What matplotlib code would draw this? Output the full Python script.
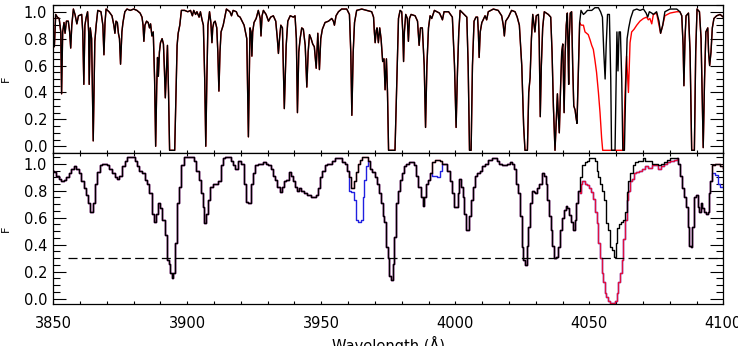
import numpy as np
import matplotlib
matplotlib.use("Agg")
import matplotlib.pyplot as plt
from matplotlib.ticker import MultipleLocator

# ---- top panel: high resolution spectrum (black) ----
top_wave = [
    3850.0, 3850.4, 3850.9, 3851.5, 3852.2, 3852.8, 3853.1, 3853.5, 3854.0, 3854.4,
    3854.9, 3855.6, 3856.1, 3856.5, 3856.9, 3857.5, 3858.1, 3858.8, 3859.4, 3860.6,
    3861.0, 3861.4, 3861.8, 3862.3, 3862.8, 3863.2, 3863.4, 3863.8, 3864.3, 3864.9,
    3865.5, 3866.0, 3866.6, 3867.8, 3868.5, 3868.9, 3869.3, 3869.7, 3870.8, 3871.9,
    3872.6, 3873.0, 3873.4, 3873.9, 3874.3, 3874.7, 3875.1, 3875.6, 3876.0, 3876.7,
    3877.5, 3878.7, 3880.0, 3881.2, 3882.4, 3883.1, 3883.5, 3883.8, 3884.2, 3884.8,
    3885.4, 3885.9, 3886.3, 3886.8, 3887.3, 3887.8, 3888.2, 3888.6, 3888.9, 3889.2,
    3889.6, 3890.0, 3890.6, 3891.1, 3891.5, 3891.8, 3892.2, 3892.6, 3893.0, 3893.4,
    3895.3, 3895.8, 3896.2, 3896.6, 3897.2, 3897.8, 3899.0, 3900.2, 3901.2, 3901.9,
    3902.4, 3903.1, 3903.6, 3904.4, 3904.9, 3905.5, 3906.0, 3906.5, 3906.9, 3907.3,
    3907.7, 3908.3, 3908.8, 3909.2, 3909.5, 3909.9, 3910.4, 3911.0, 3911.4, 3911.8,
    3912.2, 3912.6, 3913.4, 3914.0, 3914.6, 3915.9, 3916.5, 3917.1, 3918.3, 3918.9,
    3919.7, 3921.2, 3922.2, 3922.8, 3923.4, 3923.8, 3924.1, 3924.4, 3924.9, 3925.7,
    3926.5, 3927.2, 3927.5, 3927.9, 3928.4, 3929.4, 3930.3, 3931.1, 3932.1, 3933.0,
    3933.6, 3934.0, 3934.5, 3934.9, 3935.5, 3936.2, 3936.9, 3937.5, 3938.4, 3939.6,
    3940.2, 3940.7, 3941.1, 3941.6, 3942.1, 3942.7, 3943.3, 3944.0, 3944.6, 3945.1,
    3945.6, 3946.2, 3946.8, 3947.4, 3948.1, 3948.7, 3949.3, 3949.8, 3950.4, 3951.4,
    3952.7, 3953.9, 3954.5, 3954.9, 3955.5, 3956.4, 3957.6, 3959.5, 3960.5, 3961.0,
    3961.4, 3961.9, 3962.4, 3963.2, 3965.1, 3967.0, 3968.8, 3969.5, 3969.8, 3970.1,
    3970.5, 3970.8, 3971.3, 3971.8, 3972.3, 3972.9, 3973.4, 3973.8, 3974.3, 3974.7,
    3975.1, 3977.5, 3978.2, 3978.8, 3979.4, 3980.0, 3980.4, 3980.7, 3981.0, 3981.5,
    3982.1, 3982.5, 3982.9, 3983.5, 3985.0, 3985.9, 3986.5, 3987.0, 3987.7, 3988.4,
    3988.9, 3989.4, 3990.0, 3990.6, 3991.2, 3992.2, 3994.1, 3994.8, 3995.2, 3995.8,
    3997.5, 3998.9, 3999.7, 4000.3, 4000.8, 4001.3, 4001.8, 4003.3, 4004.3, 4004.8,
    4005.3, 4005.9, 4006.4, 4007.0, 4007.7, 4008.3, 4008.6, 4008.9, 4009.3, 4009.9,
    4010.4, 4011.1, 4011.7, 4012.3, 4014.2, 4016.0, 4017.3, 4017.9, 4018.3, 4018.8,
    4019.8, 4021.0, 4022.3, 4023.1, 4023.9, 4024.8, 4025.5, 4026.0, 4026.9, 4027.4,
    4027.9, 4028.4, 4028.9, 4029.4, 4029.7, 4030.2, 4031.0, 4031.3, 4031.7, 4032.1,
    4032.6, 4033.2, 4034.7, 4035.6, 4036.1, 4036.6, 4037.2, 4037.7, 4038.1, 4038.4,
    4038.8, 4039.3, 4039.7, 4040.1, 4040.6, 4041.0, 4041.4, 4041.8, 4042.0, 4042.3,
    4042.5, 4042.9, 4043.4, 4043.8, 4044.2, 4044.7, 4045.0, 4045.4, 4045.9, 4046.4,
    4046.9, 4047.8, 4048.4, 4049.3, 4050.9, 4052.1, 4053.4, 4054.2, 4054.9, 4055.4,
    4055.9, 4056.3, 4056.8, 4057.5, 4058.0, 4058.3, 4059.6, 4060.1, 4060.3, 4060.7,
    4061.1, 4061.6, 4062.1, 4062.5, 4063.1, 4063.6, 4064.1, 4064.7, 4065.4, 4066.4,
    4067.7, 4068.9, 4070.2, 4071.2, 4071.8, 4072.4, 4073.3, 4073.9, 4075.1, 4076.0,
    4076.6, 4077.4, 4078.2, 4080.1, 4082.6, 4083.8, 4084.5, 4085.0, 4085.3, 4085.7,
    4086.1, 4087.0, 4087.6, 4088.2, 4089.2, 4089.7, 4090.2, 4091.1, 4091.7, 4092.2,
    4092.5, 4093.0, 4093.5, 4094.2, 4094.5, 4094.9, 4095.4, 4095.9, 4096.5, 4097.5,
    4098.8, 4100.0,
]
top_flux = [
    0.80, 0.74, 0.98, 0.96, 0.95, 0.85, 0.39, 0.85, 0.92, 0.84,
    0.93, 0.93, 0.85, 0.73, 0.90, 1.02, 0.98, 0.91, 0.97, 0.98,
    0.85, 0.46, 0.90, 0.96, 1.00, 0.85, 0.46, 0.88, 0.80, 0.04,
    0.78, 0.90, 1.01, 1.00, 0.90, 0.68, 0.92, 1.02, 1.00, 0.97,
    0.90, 0.84, 0.93, 0.92, 0.84, 0.80, 0.61, 0.85, 0.92, 1.00,
    1.02, 1.01, 1.02, 1.01, 0.99, 0.96, 0.90, 0.78, 0.90, 0.93,
    0.92, 0.88, 0.91, 0.82, 0.85, 0.50, 0.00, 0.45, 0.66, 0.52,
    0.70, 0.77, 0.80, 0.76, 0.55, 0.36, 0.55, 0.75, 0.40, -0.03,
    -0.03, 0.40, 0.75, 0.84, 0.90, 1.01, 1.01, 1.00, 1.01, 0.97,
    1.01, 0.98, 1.00, 0.96, 1.00, 0.94, 0.90, 0.50, 0.00, 0.50,
    0.90, 1.00, 0.92, 0.77, 0.88, 0.92, 0.93, 0.88, 0.70, 0.41,
    0.70, 0.85, 0.90, 0.96, 1.02, 1.00, 0.97, 1.01, 1.00, 0.97,
    0.96, 0.90, 0.80, 0.07, 0.88, 0.85, 0.67, 0.85, 0.92, 0.95,
    1.01, 0.95, 0.82, 0.97, 1.01, 0.98, 0.93, 0.96, 0.97, 0.93,
    0.80, 0.69, 0.82, 0.90, 0.88, 0.28, 0.75, 0.93, 0.97, 0.96,
    0.97, 0.80, 0.25, 0.70, 0.80, 0.88, 0.87, 0.75, 0.44, 0.70,
    0.83, 0.80, 0.76, 0.74, 0.58, 0.84, 0.57, 0.80, 0.87, 0.92,
    0.93, 0.95, 0.93, 0.90, 0.97, 1.00, 1.02, 1.02, 0.98, 0.70,
    0.23, 0.70, 0.92, 1.01, 1.02, 1.01, 1.00, 0.96, 0.85, 0.77,
    0.86, 0.88, 0.77, 0.88, 0.80, 0.63, 0.65, 0.42, 0.65, 0.40,
    -0.03, -0.03, 0.50, 0.95, 1.01, 1.00, 0.85, 0.63, 0.85, 0.98,
    0.95, 0.78, 0.95, 0.98, 0.97, 0.93, 0.75, 0.88, 0.88, 0.60,
    0.14, 0.60, 0.88, 0.97, 0.95, 1.01, 0.99, 0.96, 0.94, 1.00,
    1.00, 0.96, 0.60, 0.14, 0.55, 0.85, 1.01, 0.98, 0.96, 0.60,
    -0.03, -0.03, 0.60, 0.93, 0.96, 0.96, 0.85, 0.66, 0.85, 0.92,
    0.94, 0.97, 0.94, 1.00, 1.02, 1.01, 0.97, 0.90, 0.82, 0.93,
    0.96, 1.01, 1.00, 0.96, 0.90, 0.60, 0.15, -0.03, -0.03, 0.40,
    0.51, 0.80, 0.98, 0.90, 0.85, 0.97, 0.98, 0.80, 0.22, 0.60,
    0.88, 1.00, 0.98, 0.96, 0.70, 0.30, -0.03, 0.20, 0.39, 0.25,
    0.10, 0.45, 0.70, 0.76, 0.25, 0.70, 0.90, 0.99, 0.80, 0.46,
    0.80, 0.99, 1.00, 0.60, 0.30, 0.27, 0.22, 0.17, 0.55, 0.92,
    1.01, 0.98, 0.99, 1.01, 1.01, 1.03, 1.03, 1.00, 0.96, 0.70,
    0.50, 0.75, 0.98, 0.98, 0.50, -0.03, -0.03, 0.60, 0.85, 0.56,
    0.85, 0.85, 0.50, -0.03, -0.03, 0.45, 0.80, 0.88, 0.95, 1.01,
    1.02, 1.01, 1.02, 0.99, 0.96, 1.00, 0.99, 0.98, 1.00, 0.93,
    0.84, 0.90, 1.00, 1.02, 1.02, 1.00, 0.97, 0.75, 0.45, 0.80,
    0.97, 0.99, 0.70, -0.03, -0.03, 0.70, 1.02, 1.00, 0.80, 0.30,
    -0.01, 0.50, 0.85, 0.88, 0.70, 0.60, 0.70, 0.88, 0.95, 0.97,
    0.98, 0.96,
]

# red model in the top panel, where it differs from the data
red_wave = [
    4046.5, 4047.1, 4047.8, 4048.4, 4049.0, 4049.6, 4050.3, 4050.9, 4051.5, 4052.1,
    4052.7, 4053.4, 4054.0, 4054.6, 4055.0, 4062.7, 4063.3, 4063.9, 4064.6, 4065.2,
    4065.8, 4066.7, 4067.7, 4068.9, 4070.2, 4071.4, 4072.0, 4072.6, 4073.3, 4073.9,
    4075.1, 4076.0, 4076.6, 4077.4, 4078.2, 4080.1, 4082.6, 4083.8,
]
red_flux = [
    0.91, 0.90, 0.90, 0.85, 0.84, 0.83, 0.79, 0.75, 0.72, 0.64,
    0.55, 0.40, 0.25, 0.06, -0.03, -0.03, 0.37, 0.67, 0.40, 0.77,
    0.85, 0.87, 0.90, 0.93, 0.95, 0.96, 0.94, 0.95, 0.91, 0.98,
    0.99, 0.90, 0.84, 0.90, 0.97, 0.99, 1.00, 1.00,
]

# ---- bottom panel: binned spectrum (black) ----
bin_wave = [
    3850.0, 3850.6, 3851.5, 3852.5, 3853.5, 3854.4, 3855.2, 3856.2, 3857.2, 3858.1,
    3859.0, 3860.0, 3860.9, 3861.8, 3862.7, 3863.4, 3864.3, 3865.2, 3865.9, 3866.8,
    3867.7, 3868.7, 3869.7, 3870.5, 3871.4, 3872.4, 3873.4, 3874.3, 3875.1, 3876.1,
    3877.1, 3878.0, 3878.9, 3879.9, 3880.9, 3881.7, 3882.6, 3883.6, 3884.6, 3885.5,
    3886.3, 3887.3, 3888.1, 3888.8, 3889.6, 3890.4, 3891.1, 3891.9, 3892.7, 3893.3,
    3893.8, 3894.5, 3895.2, 3895.8, 3896.4, 3897.3, 3898.1, 3899.1, 3900.0, 3901.0,
    3902.0, 3902.9, 3903.7, 3904.7, 3905.4, 3906.0, 3906.7, 3907.5, 3908.2, 3909.1,
    3910.0, 3911.0, 3912.0, 3912.8, 3913.7, 3914.7, 3915.7, 3916.6, 3917.4, 3918.4,
    3919.7, 3920.7, 3921.6, 3922.2, 3923.2, 3924.1, 3924.9, 3925.9, 3926.9, 3927.8,
    3928.7, 3929.7, 3930.6, 3931.5, 3932.1, 3933.1, 3934.0, 3934.9, 3935.6, 3936.5,
    3937.4, 3938.4, 3939.2, 3940.0, 3940.6, 3941.5, 3942.1, 3943.1, 3944.0, 3945.0,
    3945.8, 3946.8, 3947.7, 3948.6, 3949.3, 3949.9, 3950.8, 3951.8, 3952.7, 3953.5,
    3954.5, 3955.5, 3956.4, 3957.3, 3958.3, 3959.3, 3960.1, 3960.8, 3961.7, 3962.6,
    3963.2, 3963.9, 3964.7, 3965.5, 3966.4, 3967.2, 3967.8, 3968.6, 3969.5, 3970.5,
    3971.3, 3971.9, 3972.6, 3973.2, 3973.8, 3974.4, 3975.1, 3975.7, 3976.3, 3976.9,
    3977.5, 3978.2, 3979.0, 3979.7, 3980.4, 3981.3, 3982.1, 3983.1, 3984.1, 3985.0,
    3985.9, 3986.6, 3987.5, 3988.1, 3988.7, 3989.4, 3990.1, 3990.9, 3991.9, 3992.8,
    3993.7, 3994.7, 3995.6, 3996.6, 3997.5, 3998.3, 3999.1, 3999.9, 4000.6, 4001.2,
    4001.8, 4002.4, 4003.0, 4003.7, 4004.3, 4005.0, 4005.5, 4006.2, 4006.8, 4007.8,
    4008.6, 4009.5, 4010.5, 4011.8, 4012.9, 4014.2, 4015.2, 4016.0, 4016.9, 4017.9,
    4018.9, 4019.8, 4020.8, 4021.6, 4022.3, 4023.1, 4023.9, 4024.4, 4025.0, 4025.7,
    4026.4, 4027.0, 4027.6, 4028.2, 4028.9, 4029.5, 4030.1, 4031.0, 4031.8, 4032.8,
    4033.6, 4034.1, 4034.7, 4035.3, 4035.9, 4036.6, 4037.3, 4038.1, 4038.8, 4039.4,
    4040.3, 4040.9, 4041.5, 4042.2, 4042.8, 4043.5, 4044.3, 4044.9, 4045.5, 4046.3,
    4046.9, 4047.8, 4048.8, 4049.6, 4050.5, 4051.5, 4052.4, 4053.0, 4053.7, 4054.6,
    4055.2, 4056.1, 4056.7, 4057.5, 4058.1, 4058.7, 4059.5, 4060.2, 4060.8, 4061.4,
    4062.1, 4062.9, 4063.6, 4064.2, 4064.9, 4065.8, 4066.7, 4067.7, 4068.7, 4069.5,
    4070.4, 4071.4, 4072.6, 4073.9, 4075.1, 4076.4, 4077.4, 4078.2, 4079.5, 4080.7,
    4082.0, 4082.8, 4083.6, 4084.3, 4085.1, 4085.7, 4086.3, 4087.0, 4087.6, 4088.2,
    4088.8, 4089.4, 4090.1, 4090.7, 4091.3, 4091.9, 4092.5, 4093.2, 4093.8, 4094.4,
    4094.8, 4095.4, 4096.3, 4097.5, 4098.5, 4099.4, 4100.0,
]
bin_flux = [
    0.95, 0.94, 0.91, 0.89, 0.87, 0.88, 0.90, 0.93, 0.96, 0.98,
    0.96, 0.93, 0.87, 0.82, 0.77, 0.71, 0.64, 0.71, 0.85, 0.94,
    0.99, 1.00, 1.00, 0.99, 0.96, 0.93, 0.90, 0.89, 0.91, 0.98,
    1.02, 1.05, 1.05, 1.05, 1.02, 0.98, 0.95, 0.93, 0.88, 0.85,
    0.78, 0.63, 0.57, 0.63, 0.71, 0.67, 0.58, 0.47, 0.29, 0.26,
    0.19, 0.15, 0.19, 0.41, 0.71, 0.83, 0.99, 1.05, 1.05, 1.05,
    1.05, 1.02, 0.95, 0.88, 0.78, 0.68, 0.56, 0.63, 0.73, 0.83,
    0.85, 0.85, 0.87, 0.99, 1.04, 1.05, 1.05, 1.02, 0.99, 0.96,
    1.02, 1.00, 0.85, 0.72, 0.71, 0.85, 0.93, 0.99, 1.00, 1.00,
    1.01, 1.00, 0.99, 0.96, 0.91, 0.88, 0.83, 0.79, 0.83, 0.87,
    0.88, 0.94, 0.91, 0.87, 0.83, 0.80, 0.82, 0.80, 0.78, 0.77,
    0.77, 0.75, 0.75, 0.77, 0.82, 0.90, 0.95, 0.99, 1.00, 1.00,
    1.02, 1.04, 1.04, 1.04, 1.01, 1.00, 0.95, 0.90, 0.82, 0.87,
    0.94, 1.00, 1.03, 1.05, 1.05, 1.05, 1.02, 0.96, 0.94, 0.90,
    0.85, 0.78, 0.71, 0.61, 0.57, 0.38, 0.30, 0.17, 0.14, 0.26,
    0.46, 0.71, 0.80, 0.88, 0.93, 0.98, 1.00, 1.01, 1.01, 0.99,
    0.91, 0.83, 0.75, 0.69, 0.75, 0.85, 0.88, 0.93, 1.01, 1.03,
    1.03, 1.02, 1.00, 1.00, 0.95, 0.87, 0.78, 0.68, 0.68, 0.78,
    0.89, 0.83, 0.75, 0.63, 0.51, 0.51, 0.61, 0.73, 0.83, 0.91,
    0.93, 0.95, 0.98, 1.00, 1.03, 1.04, 1.04, 1.02, 1.00, 0.99,
    0.99, 1.00, 1.01, 1.00, 0.96, 0.85, 0.78, 0.61, 0.38, 0.29,
    0.25, 0.39, 0.53, 0.71, 0.80, 0.79, 0.78, 0.82, 0.85, 0.93,
    0.91, 0.85, 0.73, 0.61, 0.51, 0.39, 0.30, 0.31, 0.38, 0.51,
    0.60, 0.66, 0.69, 0.67, 0.62, 0.57, 0.51, 0.58, 0.71, 0.80,
    0.90, 0.99, 1.01, 1.02, 1.04, 1.04, 1.02, 0.95, 0.90, 0.85,
    0.80, 0.73, 0.56, 0.51, 0.38, 0.36, 0.31, 0.41, 0.52, 0.55,
    0.57, 0.58, 0.64, 0.79, 0.87, 0.93, 0.99, 1.01, 1.02, 1.02,
    1.04, 1.02, 1.02, 1.00, 1.00, 0.99, 1.00, 1.01, 1.03, 1.04,
    1.04, 1.04, 1.00, 0.91, 0.82, 0.75, 0.68, 0.53, 0.39, 0.38,
    0.53, 0.75, 0.77, 0.68, 0.64, 0.71, 0.67, 0.64, 0.63, 0.64,
    0.78, 0.87, 0.99, 1.00, 1.00, 0.98, 0.97,
]

# DLA model (red over blue) in the bottom panel
dla_wave = [
    4046.5, 4047.1, 4047.8, 4048.8, 4049.6, 4050.3, 4051.0, 4051.7, 4052.5, 4053.0,
    4053.7, 4054.2, 4054.9, 4055.5, 4056.1, 4056.7, 4057.5, 4058.3, 4059.2, 4060.0,
    4060.5, 4061.2, 4061.8, 4062.4, 4062.9, 4063.6, 4064.2, 4064.8, 4065.4, 4066.2,
    4067.0, 4067.9, 4068.9, 4070.2, 4071.4, 4072.6, 4073.9, 4075.1, 4076.4, 4077.4,
    4078.2, 4079.5, 4080.7, 4082.6,
]
dla_flux = [
    0.78, 0.85, 0.87, 0.85, 0.84, 0.82, 0.79, 0.74, 0.64, 0.56,
    0.41, 0.30, 0.19, 0.12, 0.04, 0.01, -0.02, -0.03, -0.03, -0.02,
    0.04, 0.12, 0.19, 0.29, 0.44, 0.58, 0.73, 0.80, 0.87, 0.89,
    0.93, 0.94, 0.95, 0.96, 0.98, 0.97, 0.99, 0.99, 0.96, 0.98,
    1.00, 1.01, 1.02, 1.03,
]

# blue model in the bottom panel, where it differs
blue1_wave = [3960.8, 3961.7, 3962.6, 3963.5, 3964.2, 3965.1, 3965.7, 3966.4, 3967.0, 3967.8]
blue1_flux = [0.80, 0.79, 0.73, 0.58, 0.57, 0.58, 0.75, 0.88, 0.98, 1.02]
blue2_wave = [3990.9, 3991.9, 3992.8, 3993.7, 3994.7, 3995.6]
blue2_flux = [0.93, 0.91, 0.91, 0.90, 0.95, 1.00]
blue3_wave = [4095.4, 4096.3, 4097.5, 4098.5, 4099.4, 4100.0]
blue3_flux = [0.87, 0.93, 0.92, 0.85, 0.83, 0.84]

f_cut = 0.3
f_cut_range = [3855.5, 4100.0]


def splice(w, f, ww, wf):
    w = np.asarray(w)
    f = np.asarray(f)
    lo = w < ww[0]
    hi = w > ww[-1]
    return (np.concatenate([w[lo], ww, w[hi]]),
            np.concatenate([f[lo], wf, f[hi]]))


plt.rcParams['font.family'] = 'DejaVu Sans'
plt.rcParams['lines.scale_dashes'] = False

fig = plt.figure(figsize=(7.38, 3.46), dpi=100)
ax1 = fig.add_axes([0.0722, 0.5578, 0.9079, 0.4277])
ax2 = fig.add_axes([0.0722, 0.1214, 0.9079, 0.4364])

# top panel
rw, rf = splice(top_wave, top_flux, red_wave, red_flux)
ax1.plot(rw, rf, color='red', lw=1.0)
ax1.plot(top_wave, top_flux, color='black', lw=1.0)
ax1.set_ylim(-0.05, 1.05)

# bottom panel
bw, bf = splice(bin_wave, bin_flux, dla_wave, dla_flux)
bw, bf = splice(bw, bf, blue1_wave, blue1_flux)
bw, bf = splice(bw, bf, blue2_wave, blue2_flux)
bw, bf = splice(bw, bf, blue3_wave, blue3_flux)
dw, df = splice(bin_wave, bin_flux, dla_wave, dla_flux)
ax2.step(bw, bf, where='mid', color='#2020e0', lw=1.0)
ax2.step(dw, df, where='mid', color='#e01040', lw=1.0)
ax2.step(bin_wave, bin_flux, where='mid', color='black', lw=1.0)
ax2.plot(f_cut_range, [f_cut, f_cut], color='black', lw=0.9,
         linestyle=(0, (6.5, 3.1)))
ax2.set_ylim(-0.04, 1.08)
ax2.set_xlabel('Wavelength (Å)', fontsize=10.5, labelpad=3)

for ax in (ax1, ax2):
    ax.set_xlim(3850, 4100)
    ax.xaxis.set_major_locator(MultipleLocator(50))
    ax.xaxis.set_minor_locator(MultipleLocator(10))
    ax.yaxis.set_major_locator(MultipleLocator(0.2))
    ax.yaxis.set_minor_locator(MultipleLocator(0.05))
    ax.tick_params(which='both', direction='in', top=True, right=True,
                   labelsize=10.5, width=0.8)
    ax.tick_params(axis='y', which='major', length=9.4, pad=4.5)
    ax.tick_params(axis='y', which='minor', length=4.7)
    ax.tick_params(axis='x', which='major', length=2.5, pad=9)
    ax.tick_params(axis='x', which='minor', length=2.0)
    ax.set_ylabel('F', fontsize=8, labelpad=9)
    for s in ax.spines.values():
        s.set_linewidth(0.9)

ax1.tick_params(axis='x', labelbottom=False)

fig.savefig('out.png', dpi=100)
